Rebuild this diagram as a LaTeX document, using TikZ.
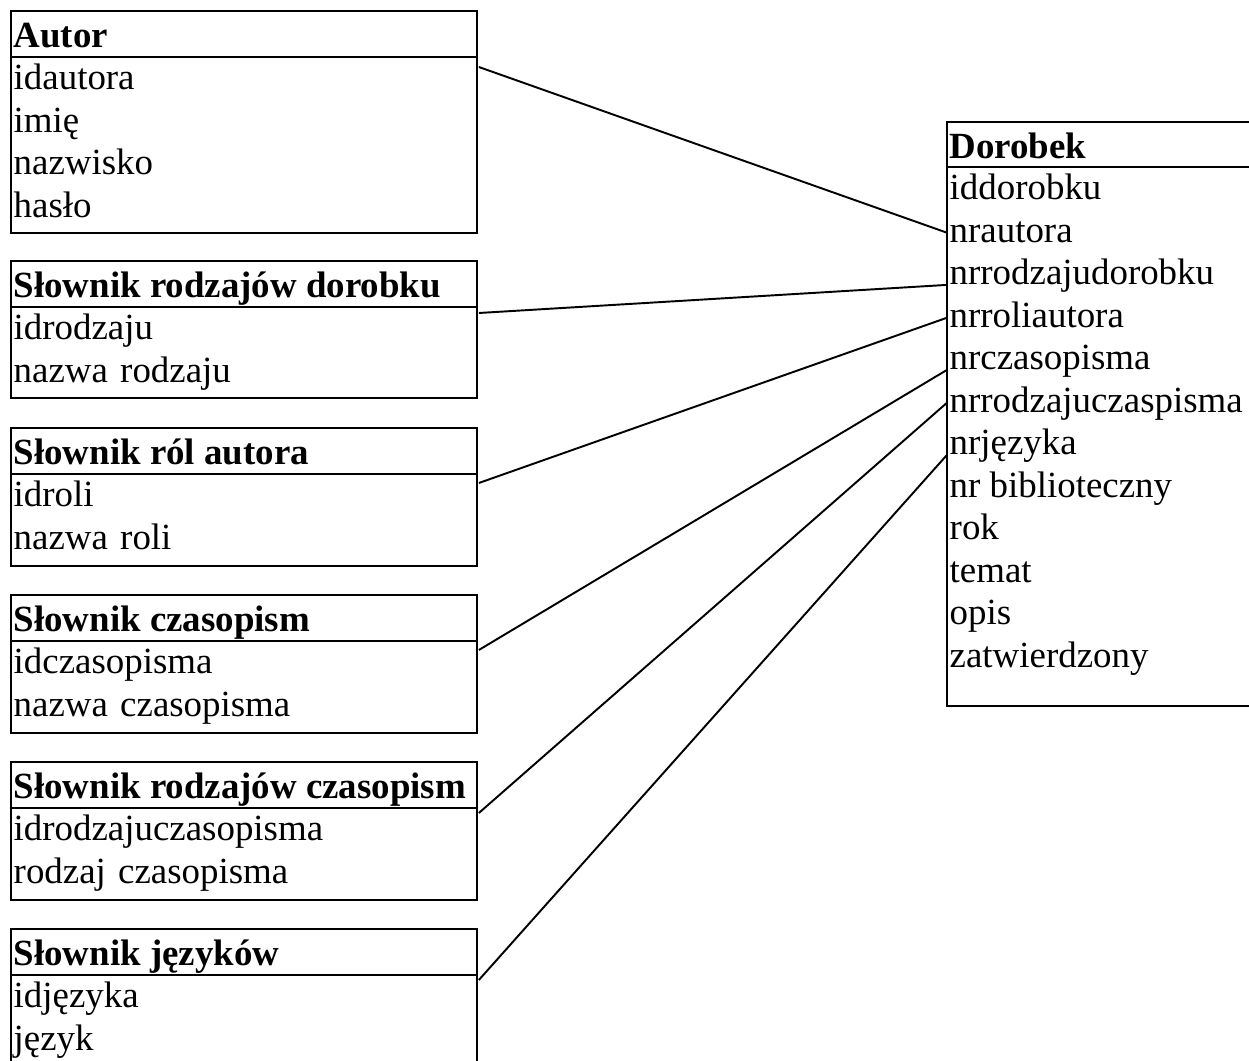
\documentclass[tikz,border=0pt]{standalone}
\usepackage{fontspec}
\setmainfont{Liberation Serif}
\usetikzlibrary{calc}
\newcommand{\tabfont}{\fontsize{21}{24}\selectfont}
% frame of a dictionary table: top y, bottom y
\newcommand{\ramka}[2]{\draw (11,#1) rectangle (477,#2); \draw (11,#1+46) -- (477,#1+46);}

\begin{document}
\begin{tikzpicture}[x=0.02cm,y=-0.02cm,line width=1.1pt,
  head/.style={anchor=north west,inner xsep=1pt,inner ysep=0.5pt,text height=20pt,text depth=5pt,font=\tabfont\bfseries},
  pole/.style={anchor=north west,inner xsep=1pt,inner ysep=0.6pt,text height=17pt,text depth=6pt,font=\tabfont},
  lpole/.style={pole,text width=9.25cm,align=left}]
  \useasboundingbox (0,0) rectangle (1249,1061);
  \clip (0,0) rectangle (1249,1061);

  % Autor
  \ramka{11}{233}
  \node[head] (autor) at (11,11) {Autor};
  \foreach \n/\t [count=\k from 0] in {idautora/idautora,imie/imię,nazwisko/nazwisko,haslo/hasło}
    \node[lpole] (\n) at (11,{58+42.5*\k}) {\t};

  % slowniki
  \ramka{261}{398}
  \node[head] (rodzdor) at (11,261) {Słownik rodzajów dorobku};
  \node[lpole] (idrodzaju) at (11,308) {idrodzaju};
  \node[lpole] (nazwarodzaju) at (11,350.5) {nazwa rodzaju};

  \ramka{428}{566}
  \node[head] (role) at (11,428) {Słownik ról autora};
  \node[lpole] (idroli) at (11,475) {idroli};
  \node[lpole] (nazwaroli) at (11,517.5) {nazwa roli};

  \ramka{595}{733}
  \node[head] (czas) at (11,595) {Słownik czasopism};
  \node[lpole] (idczasopisma) at (11,642) {idczasopisma};
  \node[lpole] (nazwaczasopisma) at (11,684.5) {nazwa czasopisma};

  \ramka{762}{900}
  \node[head] (rodzczas) at (11,762) {Słownik rodzajów czasopism};
  \node[lpole] (idrodzajuczasopisma) at (11,809) {idrodzajuczasopisma};
  \node[lpole] (rodzajczasopisma) at (11,851.5) {rodzaj czasopisma};

  \ramka{929}{1067}
  \node[head] (jezyki) at (11,929) {Słownik języków};
  \node[lpole] (idjezyka) at (11,976) {idjęzyka};
  \node[lpole] (jezyk) at (11,1018.5) {język};

  % Dorobek
  \draw (947,122) rectangle (1275,706);
  \draw (947,167) -- (1275,167);
  \node[head] (dorobek) at (947,122) {Dorobek};
  \foreach \n/\t [count=\k from 0] in {iddorobku/iddorobku,nrautora/nrautora,
      nrrodzajudorobku/nrrodzajudorobku,nrroliautora/nrroliautora,nrczasopisma/nrczasopisma,
      nrrodzajuczaspisma/nrrodzajuczaspisma,nrjezyka/nrjęzyka,nrbiblioteczny/nr biblioteczny,
      rok/rok,temat/temat,opis/opis,zatwierdzony/zatwierdzony}
    \node[pole] (\n) at (947,{168+42.5*\k}) {\t};

  % relacje
  \draw ($(idautora.north east)+(0,9)$) -- (nrautora.west);
  \draw ($(idrodzaju.north east)+(0,5)$) -- (nrrodzajudorobku.base west);
  \draw ($(idroli.north east)+(0,8)$) -- (nrroliautora.west);
  \draw ($(idczasopisma.north east)+(0,8)$) -- (nrczasopisma.base west);
  \draw ($(idrodzajuczasopisma.north east)+(0,4)$) -- (nrrodzajuczaspisma.west);
  \draw ($(idjezyka.north east)+(0,4)$) -- (nrjezyka.base west);
\end{tikzpicture}
\end{document}
